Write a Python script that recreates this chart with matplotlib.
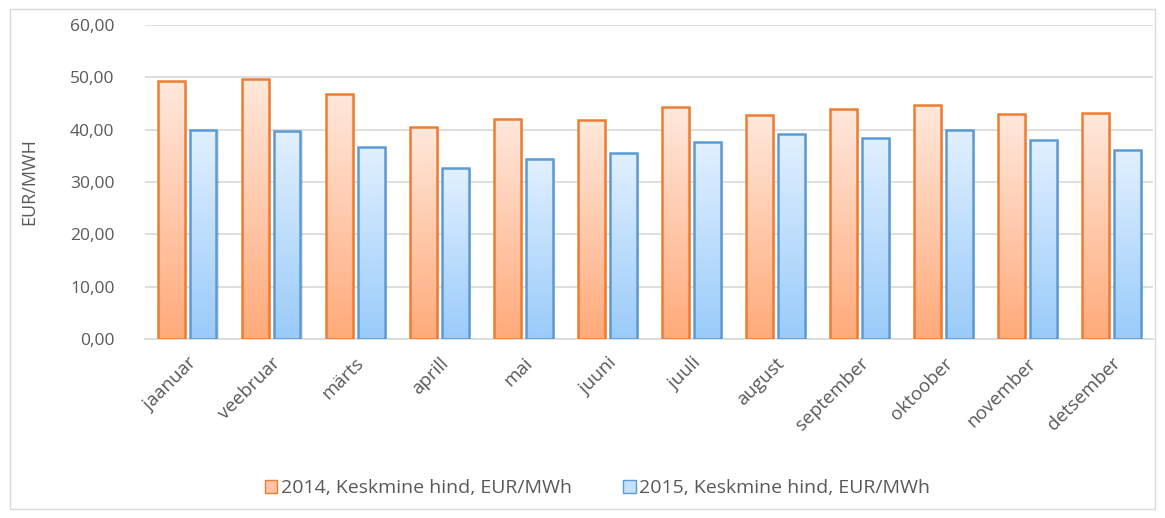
import matplotlib.pyplot as plt
import numpy as np
from matplotlib.patches import Rectangle, Patch

months = ["jaanuar", "veebruar", "märts", "aprill", "mai", "juuni",
          "juuli", "august", "september", "oktoober", "november", "detsember"]
price_2014 = [49.3, 49.7, 46.8, 40.6, 42.1, 41.9, 44.3, 42.8, 43.9, 44.7, 43.0, 43.1]
price_2015 = [40.0, 39.8, 36.7, 32.6, 34.4, 35.5, 37.6, 39.2, 38.5, 40.0, 38.1, 36.1]
label_2014 = "2014, Keskmine hind, EUR/MWh"
label_2015 = "2015, Keskmine hind, EUR/MWh"
yticks = [0, 10, 20, 30, 40, 50, 60]

plt.rcParams['font.family'] = ['Open Sans', 'DejaVu Sans']
grey = "#595959"

fig = plt.figure(figsize=(11.65, 5.18), dpi=100)
ax = fig.add_axes([0.1245, 0.3456, 0.8655, 0.606])

# outer chart border
fig.patches.append(Rectangle((0.009, 0.018), 0.982, 0.964, transform=fig.transFigure,
                             fill=False, edgecolor="#d9d9d9", linewidth=1))

x = np.arange(len(months)) + 0.5
w = 0.32
off = 0.19


def gradient_bars(bars, top_col, bot_col):
    grad = np.linspace(0, 1, 256).reshape(-1, 1)
    c1 = np.array(plt.matplotlib.colors.to_rgb(top_col))
    c2 = np.array(plt.matplotlib.colors.to_rgb(bot_col))
    img = c1 * (1 - grad)[..., None] + c2 * grad[..., None]
    img = img.reshape(256, 1, 3)
    for b in bars:
        x0, y0 = b.get_x(), b.get_y()
        bw, bh = b.get_width(), b.get_height()
        # soft shadow
        sh = Rectangle((x0 + 0.025, y0), bw, bh - 0.3, facecolor="#000000",
                       alpha=0.12, edgecolor="none", zorder=2)
        ax.add_patch(sh)
        im = ax.imshow(img, extent=[x0, x0 + bw, y0, y0 + bh], origin="upper",
                       aspect="auto", zorder=3)
        im.set_clip_path(b)


bars1 = ax.bar(x - off, price_2014, w, facecolor="none", edgecolor="#ED7D31",
               linewidth=1.8, zorder=4, label=label_2014)
bars2 = ax.bar(x + off, price_2015, w, facecolor="none", edgecolor="#5B9BD5",
               linewidth=1.8, zorder=4, label=label_2015)
gradient_bars(bars1, "#FFE8DD", "#FFAA7A")
gradient_bars(bars2, "#E2F0FF", "#9ACBFA")

ax.set_xlim(0, len(months))
ax.set_ylim(0, 60)
ax.set_yticks(yticks)
ax.set_yticklabels([f"{v:.2f}".replace(".", ",") for v in yticks])
ax.yaxis.grid(True, color="#d9d9d9", linewidth=1.2)
ax.set_axisbelow(True)
for s in ["top", "right", "left"]:
    ax.spines[s].set_visible(False)
ax.spines["bottom"].set_color("#d9d9d9")
ax.spines["bottom"].set_linewidth(1.2)
ax.tick_params(axis="y", length=0, colors=grey, labelsize=12.5, pad=22)
ax.set_xticks(x)
ax.set_xticklabels(months, rotation=45, ha="right", rotation_mode="anchor")
ax.tick_params(axis="x", length=0, colors=grey, labelsize=13.5, pad=11)
ax.set_ylabel("EUR/MWH", color=grey, fontsize=13)
ax.yaxis.set_label_coords(-0.106, 0.5)

handles = [Patch(facecolor="#FFC4A6", edgecolor="#ED7D31", label=label_2014),
           Patch(facecolor="#C4E1FD", edgecolor="#5B9BD5", label=label_2015)]
fig.legend(handles=handles, loc="center", bbox_to_anchor=(0.513, 0.058), ncol=2,
           frameon=False, fontsize=14, labelcolor=grey, handlelength=0.65,
           handleheight=0.65, handletextpad=0.2, columnspacing=2.6)

fig.savefig("out.png", dpi=100)
